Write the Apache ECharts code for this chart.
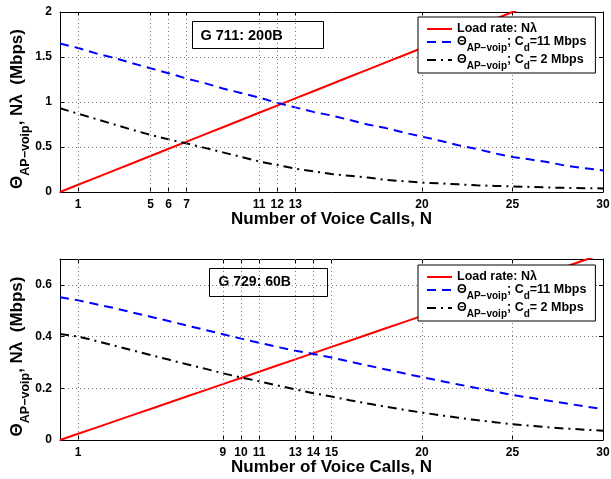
<!DOCTYPE html>
<html><head><meta charset="utf-8">
<script src="https://cdn.jsdelivr.net/npm/echarts@6/dist/echarts.min.js"></script>
<style>html,body{margin:0;padding:0;background:#fff}#c{width:611px;height:479px}</style>
</head><body><div id="c"></div>
<script>
const N = [0,1,2,3,4,5,6,7,8,9,10,11,12,13,14,15,16,17,18,19,20,21,22,23,24,25,26,27,28,29,30];

// Top panel: G 711, 200B
const loadTop  = [0,0.08,0.16,0.24,0.32,0.40,0.48,0.56,0.64,0.72,0.80,0.88,0.96,1.04,1.12,1.20,1.28,1.36,1.44,1.52,1.60,1.68,1.76,1.84,1.92,2.00,2.08,2.16,2.24,2.32,2.40];
const c11Top   = [1.65,1.60,1.54,1.49,1.43,1.375,1.32,1.26,1.21,1.15,1.10,1.05,0.99,0.94,0.89,0.85,0.80,0.75,0.71,0.66,0.615,0.57,0.52,0.48,0.43,0.39,0.36,0.33,0.29,0.265,0.24];
const c2Top    = [0.93,0.87,0.81,0.75,0.69,0.635,0.585,0.54,0.49,0.44,0.39,0.34,0.30,0.26,0.23,0.20,0.18,0.16,0.135,0.12,0.105,0.095,0.085,0.075,0.068,0.062,0.056,0.05,0.046,0.043,0.04];
const xTicksTop = [1,5,6,7,11,12,13,20,25,30];
const yTicksTop = [0,0.5,1,1.5,2];

// Bottom panel: G 729, 60B
const loadBot  = [0,0.024,0.048,0.072,0.096,0.12,0.144,0.168,0.192,0.216,0.24,0.264,0.288,0.312,0.336,0.36,0.384,0.408,0.432,0.456,0.48,0.504,0.528,0.552,0.576,0.60,0.624,0.648,0.672,0.696,0.72];
const c11Bot   = [0.552,0.54,0.525,0.51,0.493,0.477,0.46,0.443,0.426,0.409,0.392,0.376,0.36,0.345,0.333,0.319,0.303,0.288,0.273,0.258,0.243,0.229,0.215,0.201,0.188,0.174,0.163,0.152,0.141,0.13,0.119];
const c2Bot    = [0.41,0.40,0.383,0.365,0.347,0.329,0.311,0.293,0.276,0.258,0.242,0.227,0.211,0.196,0.181,0.168,0.154,0.141,0.129,0.117,0.106,0.096,0.086,0.077,0.069,0.061,0.055,0.049,0.044,0.04,0.036];
const xTicksBot = [1,9,10,11,13,14,15,20,25,30];
const yTicksBot = [0,0.2,0.4,0.6];

const titles = ['G 711: 200B', 'G 729: 60B'];
const names = ['Load rate: Nλ', 'Θ AP−voip; Cd=11 Mbps', 'Θ AP−voip; Cd= 2 Mbps'];
const legendRich = [
  '{m|Load rate: Nλ}',
  '{m|Θ}{s|AP−voip}{m|; C}{s|d}{m|=11 Mbps}',
  '{m|Θ}{s|AP−voip}{m|; C}{s|d}{m|= 2 Mbps}'
];
const yName = '{m|Θ}{s|AP−voip}{m|, Nλ  (Mbps)}';
const xName = 'Number of Voice Calls, N';

const FF = '"Liberation Sans", Arial, sans-serif';
const pair = arr => N.map((n, i) => [n, arr[i]]);

const chart = echarts.init(document.getElementById('c'), null, {renderer: 'canvas'});

const grids = [
  {left: 60, top: 12, width: 543, height: 180},
  {left: 60, top: 259, width: 543, height: 181}
];
const yMax = [2, 0.7];
const xTicks = [xTicksTop, xTicksBot];
const yTicks = [yTicksTop, yTicksBot];
const yInt = [0.5, 0.2];
const data = [[loadTop, c11Top, c2Top], [loadBot, c11Bot, c2Bot]];
const legendTops = [17, 265];

const richY = {
  m: {fontFamily: FF, fontWeight: 'bold', fontSize: 17, color: '#000', lineHeight: 19, verticalAlign: 'top'},
  s: {fontFamily: FF, fontWeight: 'bold', fontSize: 12.5, color: '#000', lineHeight: 13, padding: [10, 0, 0, 0], verticalAlign: 'top'}
};
const richL = {
  m: {fontFamily: FF, fontWeight: 'bold', fontSize: 12.5, color: '#000', lineHeight: 14, verticalAlign: 'top'},
  s: {fontFamily: FF, fontWeight: 'bold', fontSize: 10, color: '#000', lineHeight: 10, padding: [8, 0, 0, 0], verticalAlign: 'top'}
};

const xAxes = [], yAxes = [], series = [], legends = [], graphics = [];
for (let g = 0; g < 2; g++) {
  xAxes.push({
    type: 'value', gridIndex: g, position: 'bottom', min: 0, max: 30,
    axisLine: {show: true, onZero: false, lineStyle: {color: '#000', width: 1}},
    axisTick: {show: true, inside: true, length: 4, customValues: xTicks[g], lineStyle: {color: '#000'}},
    axisLabel: {show: true, customValues: xTicks[g], fontFamily: FF, fontWeight: 'bold', fontSize: 12, color: '#000', margin: 7},
    splitLine: {show: false},
    name: xName, nameLocation: 'middle', nameGap: 19, nameMoveOverlap: false,
    nameTextStyle: {fontFamily: FF, fontWeight: 'bold', fontSize: 17, color: '#000'}
  });
  xAxes.push({
    type: 'value', gridIndex: g, position: 'top', min: 0, max: 30,
    axisLine: {show: true, onZero: false, lineStyle: {color: '#000', width: 1}},
    axisTick: {show: true, inside: true, length: 4, customValues: xTicks[g], lineStyle: {color: '#000'}},
    axisLabel: {show: false}, splitLine: {show: false}
  });
  yAxes.push({
    type: 'value', gridIndex: g, position: 'left', min: 0, max: yMax[g], interval: yInt[g],
    axisLine: {show: true, onZero: false, lineStyle: {color: '#000', width: 1}},
    axisTick: {show: true, inside: true, length: 4, lineStyle: {color: '#000'}},
    axisLabel: {show: true, customValues: yTicks[g], fontFamily: FF, fontWeight: 'bold', fontSize: 12, color: '#000', margin: 8},
    splitLine: {show: true, lineStyle: {type: [1, 3], color: '#777', width: 1}},
    name: yName, nameLocation: 'middle', nameGap: 32, nameRotate: 90, nameMoveOverlap: false,
    nameTextStyle: {rich: richY, padding: [0, 14, 0, 0]}
  });
  yAxes.push({
    type: 'value', gridIndex: g, position: 'right', min: 0, max: yMax[g], interval: yInt[g],
    axisLine: {show: true, onZero: false, lineStyle: {color: '#000', width: 1}},
    axisTick: {show: true, inside: true, length: 4, lineStyle: {color: '#000'}},
    axisLabel: {show: false}, splitLine: {show: false}
  });
  const styles = [
    {color: '#ff0000', width: 2, type: 'solid'},
    {color: '#0000ff', width: 2, type: [9, 6]},
    {color: '#000000', width: 2, type: [9, 5, 2, 5]}
  ];
  for (let k = 0; k < 3; k++) {
    const s = {
      type: 'line', name: names[k], xAxisIndex: g * 2, yAxisIndex: g * 2,
      data: pair(data[g][k]), showSymbol: false, symbol: 'none', clip: true,
      lineStyle: styles[k], itemStyle: {color: styles[k].color}, animation: false, z: 3
    };
    if (k === 0) {
      s.markLine = {
        silent: true, symbol: ['none', 'none'], animation: false,
        label: {show: false},
        lineStyle: {type: [1, 3], color: '#777', width: 1},
        data: xTicks[g].filter(v => v < 30).map(v => ({xAxis: v}))
      };
    }
    series.push(s);
  }
  legends.push({
    show: true, orient: 'vertical', left: 418, top: legendTops[g],
    data: names, itemWidth: 25, itemHeight: 12, itemGap: 0,
    itemStyle: {opacity: 0},
    backgroundColor: '#fff', borderColor: '#000', borderWidth: 1, borderRadius: 0,
    padding: [5, 9, 2, 8], selectedMode: false, z: 10,
    formatter: name => legendRich[names.indexOf(name)],
    textStyle: {fontFamily: FF, fontWeight: 'bold', fontSize: 12.5, color: '#000', rich: richL}
  });
}

graphics.push({
  type: 'group', left: 192, top: 21, z: 20, children: [
    {type: 'rect', shape: {x: 0, y: 0, width: 131, height: 27}, style: {fill: '#fff', stroke: '#000', lineWidth: 1}},
    {type: 'text', x: 8, y: 14, style: {text: titles[0], font: 'bold 14.5px ' + FF, fill: '#000', verticalAlign: 'middle'}}
  ]
});
graphics.push({
  type: 'group', left: 209, top: 268, z: 20, children: [
    {type: 'rect', shape: {x: 0, y: 0, width: 118, height: 28}, style: {fill: '#fff', stroke: '#000', lineWidth: 1}},
    {type: 'text', x: 9, y: 14, style: {text: titles[1], font: 'bold 14px ' + FF, fill: '#000', verticalAlign: 'middle'}}
  ]
});

chart.setOption({
  animation: false,
  backgroundColor: '#fff',
  grid: grids.map(gr => Object.assign({containLabel: false, outerBoundsMode: 'none', show: false}, gr)),
  xAxis: xAxes, yAxis: yAxes, series: series, legend: legends, graphic: graphics
});
</script>
</body></html>
